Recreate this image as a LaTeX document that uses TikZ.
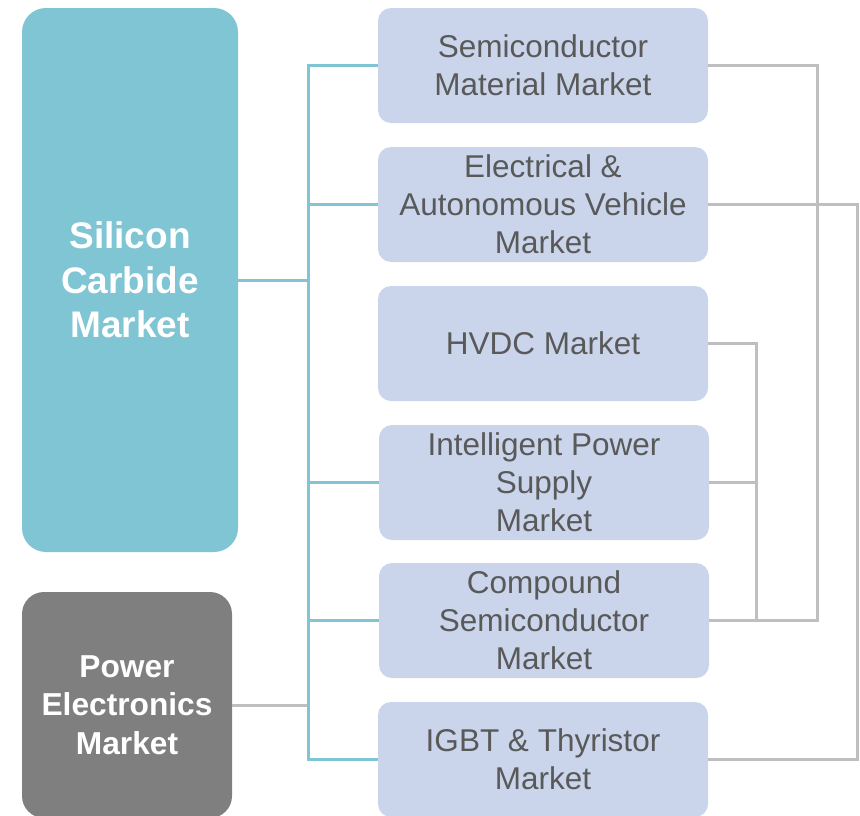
\documentclass[tikz,border=0pt]{standalone}
\usepackage{fontspec}
\setmainfont{Liberation Sans}
\usetikzlibrary{positioning,calc}
\definecolor{sicteal}{HTML}{7FC5D3}
\definecolor{mktblue}{HTML}{CAD5EB}
\definecolor{pegray}{HTML}{7F7F7F}
\definecolor{linegray}{HTML}{BFBFBF}
\definecolor{txtgray}{HTML}{595959}

\begin{document}
\begin{tikzpicture}[x=1pt, y=-1pt,
    mkt/.style={fill=mktblue, rounded corners=13pt, minimum width=330pt, minimum height=115pt,
      inner sep=0pt, align=center, text=txtgray, font=\fontsize{31.5}{38}\selectfont},
    hub/.style={rounded corners=24pt, inner sep=0pt, align=center, text=white},
    tealln/.style={draw=sicteal, line width=3pt},
    grayln/.style={draw=linegray, line width=3pt}
  ]
    \useasboundingbox (0,0) rectangle (860,815);
    \clip (0,0) rectangle (860,815);

    % Left hub boxes
    \node[hub, fill=sicteal, minimum width=216pt, minimum height=544pt,
      font=\fontsize{37}{44.5}\selectfont\bfseries] (sic) at (130,280) {Silicon\\Carbide\\Market};
    \node[hub, fill=pegray, rounded corners=22pt, minimum width=210pt, minimum height=226pt,
      font=\fontsize{31.7}{38.5}\selectfont\bfseries] (pe) at (127,705) {Power\\Electronics\\Market};

    % Market boxes
    \node[mkt] (semi)  at (543,65.5)  {Semiconductor\\Material Market};
    \node[mkt] (ev)    at (543,204.5) {Electrical \&\\Autonomous Vehicle\\Market};
    \node[mkt] (hvdc)  at (543,343.5) {HVDC Market};
    \node[mkt] (ips)   at (544,482.5) {Intelligent Power\\Supply\\ Market};
    \node[mkt] (comp)  at (544,620.5) {Compound\\Semiconductor\\Market};
    \node[mkt] (igbt)  at (543,759.5) {IGBT \& Thyristor\\Market};

    % Bus positions
    \coordinate (bus) at (308,0);
    \coordinate (rin) at (756,0);
    \coordinate (rmid) at (817,0);
    \coordinate (rout) at (857,0);

    % Power electronics feed
    \draw[grayln] (pe.east) -- (bus |- pe.east);

    % Silicon carbide bus
    \draw[tealln] (sic.east) -- (bus |- sic.east);
    \draw[tealln] (semi.west) -- (bus |- semi.west) -- (bus |- igbt.west) -- (igbt.west);
    \foreach \m in {ev,ips,comp}
      \draw[tealln] (bus |- \m.west) -- (\m.west);

    % Right-hand links
    \draw[grayln] (semi.east) -- (rmid |- semi.east) -- (rmid |- comp.east) -- (comp.east);
    \draw[grayln] (ev.east) -- (rout |- ev.east) -- (rout |- igbt.east) -- (igbt.east);
    \draw[grayln] (hvdc.east) -- (rin |- hvdc.east) -- (rin |- comp.east);
    \draw[grayln] (ips.east) -- (rin |- ips.east);
  \end{tikzpicture}
\end{document}
